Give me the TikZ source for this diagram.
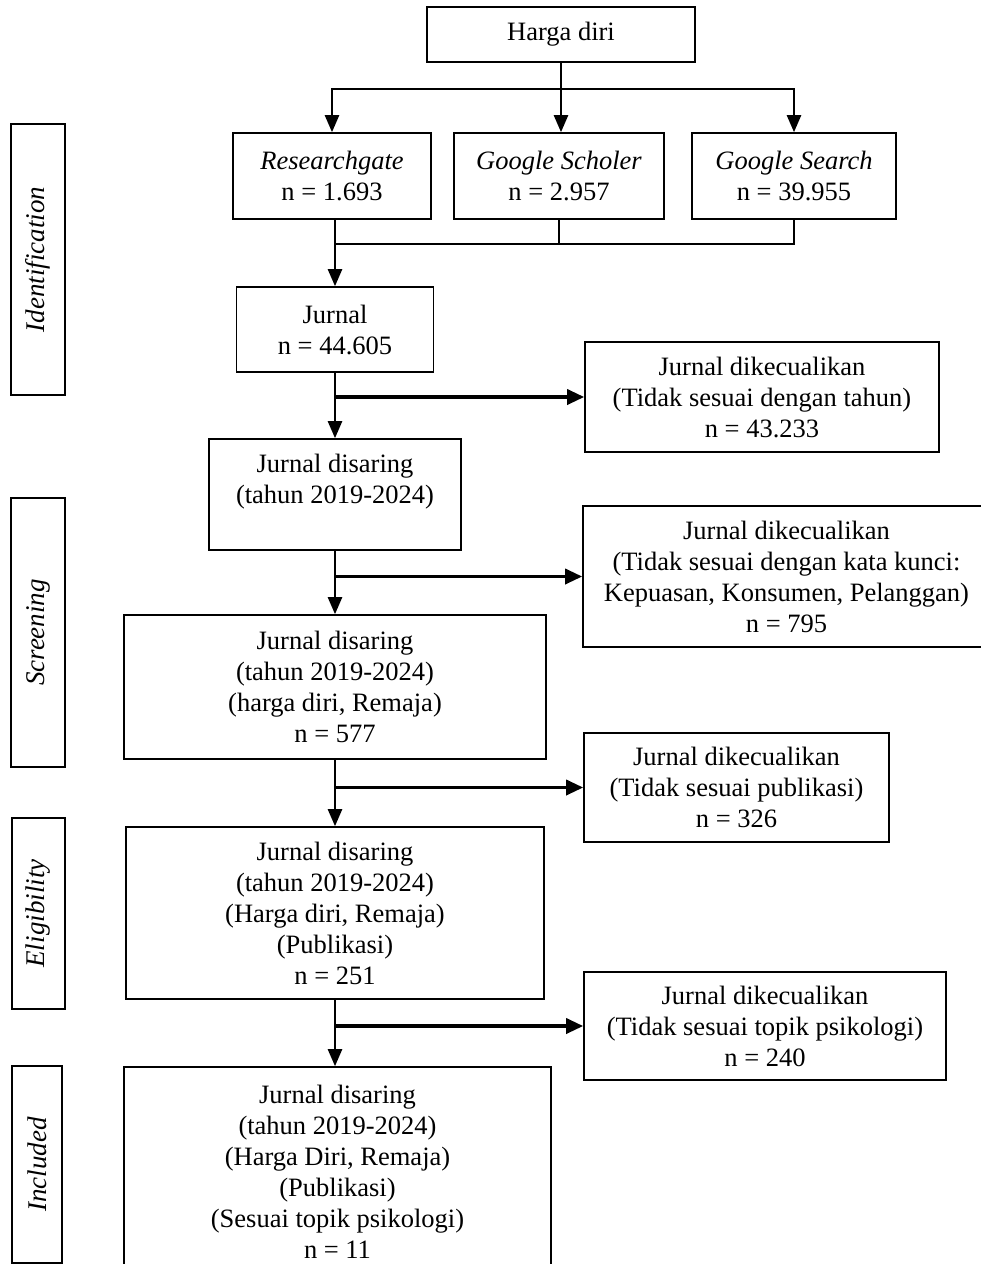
\documentclass[tikz,border=0pt]{standalone}
\usepackage{fontspec}
\setmainfont{Liberation Serif}
\usepackage{tikz}
\usetikzlibrary{arrows.meta, positioning, calc}

\begin{document}
\begin{tikzpicture}[x=1pt,y=-1pt,
    box/.style={draw,line width=1.6pt,align=center,inner sep=0pt,font=\fontsize{26.5}{31}\selectfont},
    phase/.style={draw,line width=1.6pt,inner sep=0pt,rotate=90,font=\fontsize{27}{31}\selectfont\itshape},
    arr/.style={-{Triangle[length=17pt,width=14pt]},line width=2.4pt},
    link/.style={line width=2.4pt},
    branch/.style={-{Triangle[length=17pt,width=15pt]},line width=3.4pt}]
    \useasboundingbox (0,0) rectangle (981,1264);
    % phase labels on the left
    \node[phase,minimum width=271pt,minimum height=54pt] (ident) at (38,259.5) {Identification};
    \node[phase,minimum width=269pt,minimum height=54pt] (screen) at (38,632.5) {Screening};
    \node[phase,minimum width=191pt,minimum height=53pt] (elig) at (38.5,913.5) {Eligibility};
    \node[phase,minimum width=197pt,minimum height=50pt] (incl) at (37,1164.5) {Included};
    % sources
    \node[box,minimum width=268pt,minimum height=55pt] (top) at (561,34.5) {Harga diri};
    \node[box,minimum width=198pt,minimum height=86pt] (rg) at (332,176) {\textit{Researchgate}\\n = 1.693};
    \node[box,minimum width=210pt,minimum height=86pt] (gs) at (559,176) {\textit{Google Scholer}\\n = 2.957};
    \node[box,minimum width=204pt,minimum height=86pt] (gse) at (794,176) {\textit{Google Search}\\n = 39.955};
    % main chain
    \node[box,minimum width=197pt,minimum height=85pt] (jur) at (335,329.5) {Jurnal\\n = 44.605};
    \node[box,minimum width=252pt,minimum height=111pt] (dis1) at (335,494.5) {Jurnal disaring\\(tahun 2019-2024)\\~};
    \node[box,minimum width=422pt,minimum height=144pt] (dis2) at (335,687) {Jurnal disaring\\(tahun 2019-2024)\\(harga diri, Remaja)\\n = 577};
    \node[box,minimum width=418pt,minimum height=172pt] (dis3) at (335,913) {Jurnal disaring\\(tahun 2019-2024)\\(Harga diri, Remaja)\\(Publikasi)\\n = 251};
    \node[box,minimum width=427pt,minimum height=210pt] (dis4) at (337.5,1172) {Jurnal disaring\\(tahun 2019-2024)\\(Harga Diri, Remaja)\\(Publikasi)\\(Sesuai topik psikologi)\\n = 11};
    % excluded
    \node[box,minimum width=354pt,minimum height=110pt] (ex1) at (762,397) {Jurnal dikecualikan\\(Tidak sesuai dengan tahun)\\n = 43.233};
    \node[box,minimum width=407pt,minimum height=141pt] (ex2) at (786.5,576.5) {Jurnal dikecualikan\\(Tidak sesuai dengan kata kunci:\\Kepuasan, Konsumen, Pelanggan)\\n = 795};
    \node[box,minimum width=305pt,minimum height=109pt] (ex3) at (736.5,787.5) {Jurnal dikecualikan\\(Tidak sesuai publikasi)\\n = 326};
    \node[box,minimum width=362pt,minimum height=108pt] (ex4) at (765,1026) {Jurnal dikecualikan\\(Tidak sesuai topik psikologi)\\n = 240};
    % split and merge
    \coordinate (split) at (561,89);
    \coordinate (merge) at (335,244);
    \draw[link] (top.south) -- (split);
    \draw[arr] (split) -- (split |- gs.north);
    \draw[arr] (split) -| (rg.north);
    \draw[arr] (split) -| (gse.north);
    \draw[link] (gse.south) |- (merge);
    \draw[link] (gs.south) -- (gs.south |- merge);
    \draw[arr] (rg.south -| jur.north) -- (jur.north);
    % down the chain
    \draw[arr] (jur.south) -- (dis1.north);
    \draw[arr] (dis1.south) -- (dis2.north);
    \draw[arr] (dis2.south) -- (dis3.north);
    \draw[arr] (dis3.south) -- (dis3.south |- dis4.north);
    \draw[branch] (jur.south |- ex1.west) -- (ex1.west);
    \draw[branch] (dis1.south |- ex2.west) -- (ex2.west);
    \draw[branch] (dis2.south |- ex3.west) -- (ex3.west);
    \draw[branch] (dis3.south |- ex4.west) -- (ex4.west);
\end{tikzpicture}
\end{document}
